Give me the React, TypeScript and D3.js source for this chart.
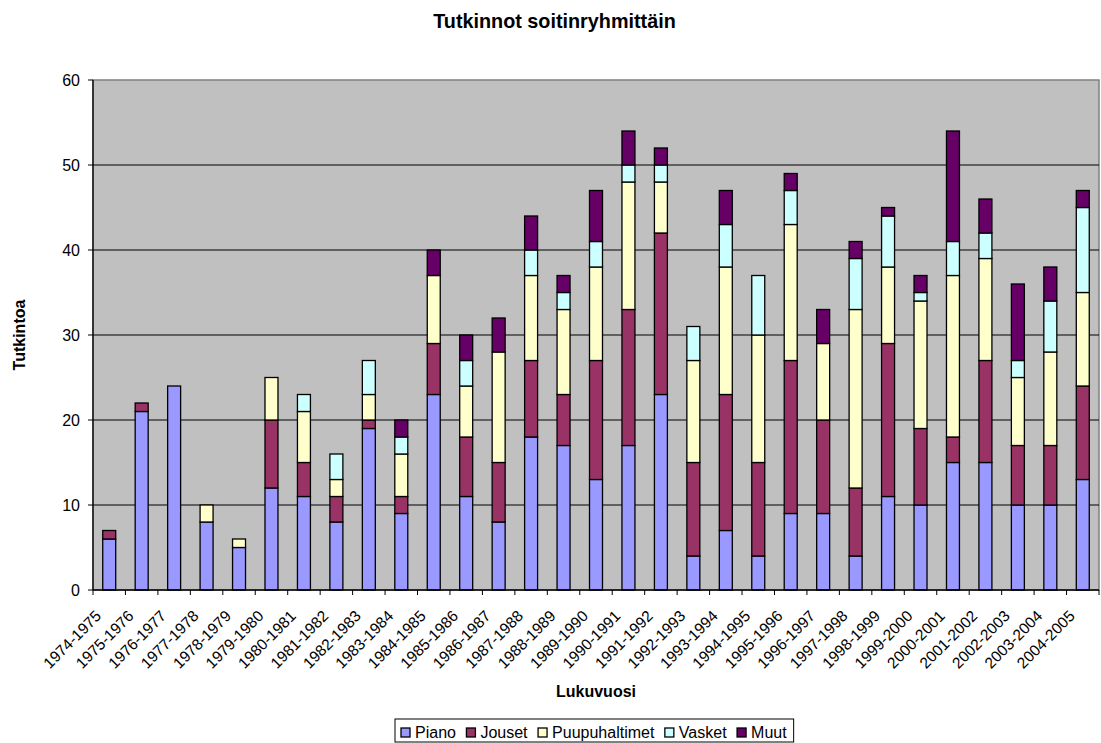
import React from "react";
import * as d3 from "d3";

const categories = [
  "1974-1975","1975-1976","1976-1977","1977-1978","1978-1979","1979-1980","1980-1981",
  "1981-1982","1982-1983","1983-1984","1984-1985","1985-1986","1986-1987","1987-1988",
  "1988-1989","1989-1990","1990-1991","1991-1992","1992-1993","1993-1994","1994-1995",
  "1995-1996","1996-1997","1997-1998","1998-1999","1999-2000","2000-2001","2001-2002",
  "2002-2003","2003-2004","2004-2005",
];

const piano = [6,21,24,8,5,12,11,8,19,9,23,11,8,18,17,13,17,23,4,7,4,9,9,4,11,10,15,15,10,10,13];
const jouset = [1,1,0,0,0,8,4,3,1,2,6,7,7,9,6,14,16,19,11,16,11,18,11,8,18,9,3,12,7,7,11];
const puupuhaltimet = [0,0,0,2,1,5,6,2,3,5,8,6,13,10,10,11,15,6,12,15,15,16,9,21,9,15,19,12,8,11,11];
const vasket = [0,0,0,0,0,0,2,3,4,2,0,3,0,3,2,3,2,2,4,5,7,4,0,6,6,1,4,3,2,6,10];
const muut = [0,0,0,0,0,0,0,0,0,2,3,3,4,4,2,6,4,2,0,4,0,2,4,2,1,2,13,4,9,4,2];

const seriesNames = ["Piano", "Jouset", "Puupuhaltimet", "Vasket", "Muut"];
const seriesColors = ["#9999FF", "#993366", "#FFFFCC", "#CCFFFF", "#660066"];
const yTicks = [0, 10, 20, 30, 40, 50, 60];

const title = "Tutkinnot soitinryhmittäin";
const xTitle = "Lukuvuosi";
const yTitle = "Tutkintoa";

const FONT = "'Liberation Sans', Arial, Helvetica, sans-serif";

function measure(text: string, size: number, bold = false) {
  if (typeof document === "undefined") return text.length * size * 0.55;
  const c = document.createElement("canvas");
  const ctx = c.getContext("2d");
  if (!ctx) return text.length * size * 0.55;
  ctx.font = `${bold ? "bold " : ""}${size}px ${FONT}`;
  return ctx.measureText(text).width;
}

export default function App() {
  const W = 1101, H = 743;
  const left = 93, right = 1099, top = 80, bottom = 590;

  const table = categories.map((c, i) => ({
    cat: c,
    Piano: piano[i],
    Jouset: jouset[i],
    Puupuhaltimet: puupuhaltimet[i],
    Vasket: vasket[i],
    Muut: muut[i],
  }));
  const stacked = d3.stack<any>().keys(seriesNames)(table);

  const x = d3.scaleBand().domain(categories).range([left, right]).paddingInner(0.6).paddingOuter(0.3);
  const step = (right - left) / categories.length;
  const y = d3.scaleLinear().domain([0, 60]).range([bottom, top]);

  // legend layout
  const legFont = 16;
  const sq = 9;
  const gap = 10.5;
  const items = seriesNames.map((n) => ({ n, w: measure(n, legFont) }));
  const legX = 395;
  let cx = legX + 6;
  const legItems = items.map((it, i) => {
    const pos = { ...it, sx: cx, tx: cx + sq + 5, color: seriesColors[i] };
    cx += sq + 5 + it.w + gap;
    return pos;
  });
  const legW = cx - gap + 7 - legX;

  return (
    <svg width={W} height={H} style={{ position: "absolute", left: 0, top: 0, background: "#fff" }} fontFamily={FONT}>
      <text x={554.5} y={28} textAnchor="middle" fontSize={19.8} fontWeight="bold">{title}</text>

      <rect x={left} y={top} width={right - left} height={bottom - top} fill="#C0C0C0" stroke="#808080" strokeWidth={1.5} />

      {yTicks.filter((t) => t > 0 && t < 60).map((t) => (
        <line key={t} x1={left} x2={right} y1={y(t)} y2={y(t)} stroke="#000" strokeWidth={1} />
      ))}

      {stacked.map((s, si) => (
        <g key={s.key}>
          {s.map((d, i) => {
            const h = y(d[0]) - y(d[1]);
            if (h <= 0) return null;
            return (
              <rect key={i} x={x(categories[i])!} y={y(d[1])} width={x.bandwidth()} height={h}
                fill={seriesColors[si]} stroke="#000" strokeWidth={1.3} />
            );
          })}
        </g>
      ))}

      <line x1={left} x2={left} y1={top} y2={bottom} stroke="#000" strokeWidth={1.3} />
      <line x1={left} x2={right} y1={bottom} y2={bottom} stroke="#000" strokeWidth={1.3} />

      {yTicks.map((t) => (
        <g key={t}>
          <line x1={left - 5} x2={left} y1={y(t)} y2={y(t)} stroke="#000" strokeWidth={1} />
          <text x={left - 13} y={y(t) + 5.5} textAnchor="end" fontSize={16}>{t}</text>
        </g>
      ))}

      {d3.range(categories.length + 1).map((i) => (
        <line key={i} x1={left + i * step} x2={left + i * step} y1={bottom} y2={bottom + 5} stroke="#000" strokeWidth={1} />
      ))}

      {categories.map((c) => {
        const cxp = x(c)! + x.bandwidth() / 2 - 7;
        const cyp = 617;
        return (
          <text key={c} x={cxp} y={cyp} textAnchor="end" fontSize={15.5} transform={`rotate(-45 ${cxp} ${cyp})`}>{c}</text>
        );
      })}

      <text x={(left + right) / 2} y={697} textAnchor="middle" fontSize={16} fontWeight="bold">{xTitle}</text>
      <text x={0} y={0} textAnchor="middle" fontSize={16} fontWeight="bold" transform={`translate(25 335) rotate(-90)`}>{yTitle}</text>

      <rect x={legX} y={719} width={legW} height={23} fill="#fff" stroke="#000" strokeWidth={1} />
      {legItems.map((it) => (
        <g key={it.n}>
          <rect x={it.sx} y={728} width={sq} height={sq} fill={it.color} stroke="#000" strokeWidth={1.3} />
          <text x={it.tx} y={738} fontSize={legFont}>{it.n}</text>
        </g>
      ))}
    </svg>
  );
}
